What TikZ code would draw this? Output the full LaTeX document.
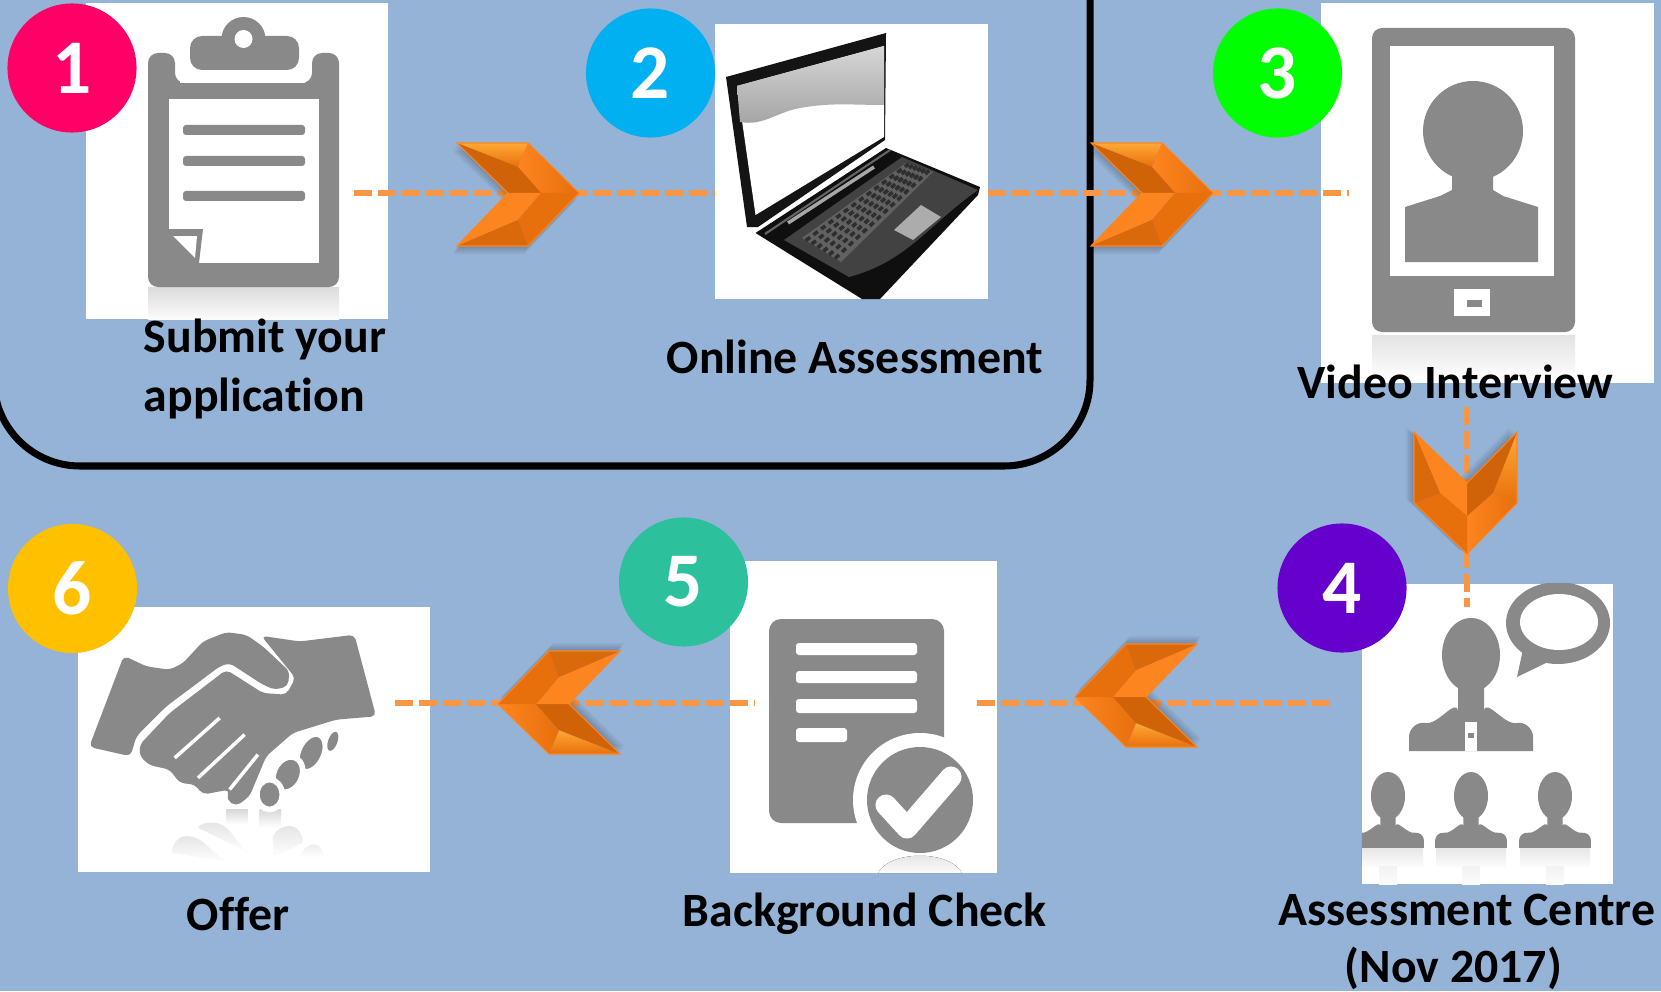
\documentclass[tikz,border=0pt]{standalone}
\usepackage{fontspec}
\setmainfont{Carlito}[Ligatures=CommonOff]
\usetikzlibrary{positioning,calc}

\definecolor{pagecol}{HTML}{95B3D7}
\definecolor{dashcol}{HTML}{F79646}
\definecolor{icongrey}{HTML}{898989}
\definecolor{chevlight}{HTML}{FFA836}
\definecolor{chevbright}{HTML}{FD8520}
\definecolor{chevmid}{HTML}{E8700C}
\definecolor{chevdark}{HTML}{D06208}

\tikzset{
	card/.style={fill=white,inner sep=0,outer sep=0},
	badge/.style={circle,minimum size=1.29cm,inner sep=0,text=white,font=\fontsize{22}{22}\selectfont\bfseries},
	caption/.style={inner sep=0,font=\fontsize{13.6}{16.4}\selectfont\bfseries},
	flowline/.style={dashcol,line width=1.7pt,dash pattern=on 5.1pt off 1.7pt},
	icon/.style={fill=icongrey},
	fadeout/.style={top color=gray!28,bottom color=gray!3,draw=none},
	bust/.pic={
		\fill[icon] (0,0) ellipse (29 and 37);
		\fill[icon] (-13,30) -- (13,30) -- (13,56) to[out=80,in=190] (46,68) to[out=10,in=90] (62,82) -- (62,96) -- (-62,96) -- (-62,82) to[out=90,in=170] (-46,68) to[out=-10,in=100] (-13,56) -- cycle;
	},
}

% one chevron, tip at #1, turned by #2
\newcommand{\chevronmark}[2]{
	\begin{scope}[shift={#1},rotate=#2]
		\foreach \d in {2,4,6,8} {
			\fill[black,opacity=.05] (-122-\d/2,-50+\d) -- (-51-\d/2,-50+\d) -- (-\d/2,\d) -- (-51-\d/2,53+\d) -- (-122-\d/2,53+\d) -- (-71-\d/2,\d) -- cycle;
		}
		\shade[top color=chevlight,bottom color=chevmid] (-122,-50) -- (-51,-50) -- (-61,-26) -- cycle;
		\shade[left color=chevbright,right color=chevmid] (-51,-50) -- (0,0) -- (-38,0) -- (-61,-26) -- cycle;
		\fill[chevdark] (-122,-50) -- (-61,-26) -- (-38,0) -- (-71,0) -- cycle;
		\fill[chevbright] (-71,0) -- (-38,0) -- (-61,27) -- (-122,53) -- cycle;
		\fill[chevmid] (-38,0) -- (0,0) -- (-51,53) -- (-61,27) -- cycle;
		\fill[chevmid!94!black] (-122,53) -- (-61,27) -- (-51,53) -- cycle;
		\draw[chevbright,line width=.3pt,line join=miter] (-122,-50) -- (-51,-50) -- (0,0) -- (-51,53) -- (-122,53) -- (-71,0) -- cycle;
	\end{scope}
}

\begin{document}
\begin{tikzpicture}[x=0.01cm,y=-0.01cm]
	\useasboundingbox (0,0) rectangle (1661,991);
	\clip (0,0) rectangle (1661,991);
	\fill[pagecol] (0,0) rectangle (1661,991);
	% The frame round the first two steps runs off the page on the top and the left.
	\draw[black,line width=2pt,rounded corners=0.86cm] (-6,-120) rectangle (1090,466);

	\node[card,minimum width=3.02cm,minimum height=3.16cm] (card1) at (237,161) {};
	\node[card,minimum width=2.73cm,minimum height=2.75cm] (card2) at (851.5,161.5) {};
	\node[card,minimum width=3.33cm,minimum height=3.80cm] (card3) at (1487.5,193) {};
	\node[card,minimum width=2.51cm,minimum height=3.00cm] (card4) at (1487.5,734) {};
	\node[card,minimum width=2.67cm,minimum height=3.12cm] (card5) at (863.5,717) {};
	\node[card,minimum width=3.52cm,minimum height=2.65cm] (card6) at (254,739.5) {};

	% Clipboard
	\fill[fadeout] (148,287) rectangle (339,319);
	\fill[icon,rounded corners=0.1cm] (148,287) -- (148,53) -- (175,53) -- (175,83) -- (312,83) -- (312,53) -- (339,53) -- (339,287) -- cycle;
	\fill[white] (180,70) rectangle (305,83);
	\fill[icon,rounded corners=0.12cm] (190,70) -- (190,36) -- (299,36) -- (299,70) -- cycle;
	\fill[icon] (243.5,39) circle (22);
	\fill[white] (243.5,39) circle (9);
	\fill[white] (169,99) rectangle (319,263);
	\fill[icon,rounded corners=0.03cm] (183,125) rectangle (305,135);
	\fill[icon,rounded corners=0.03cm] (183,156) rectangle (305,166);
	\fill[icon,rounded corners=0.03cm] (183,191) rectangle (305,201);
	\fill[icon] (169,229) -- (203,229) -- (199,263) -- (169,263) -- cycle;
	\fill[white] (173,236) -- (197,236) -- (195,258) -- cycle;

	% Laptop
	\fill[black!92] (726,77) -- (886,33) -- (885,140) -- (758,227) -- (747,227) -- cycle;
	\fill[white] (737,86) -- (884,46) -- (884,137) -- (755.5,215) -- cycle;
	\shade[top color=black!16,bottom color=black!36] (737,86) -- (884,46) -- (884,105) to[out=180,in=10] (800,108) to[out=190,in=-10] (740,122) -- cycle;
	\fill[black!94] (755.5,233) -- (886,148) -- (980,187) -- (978,195) -- (880,299) -- (862,299) -- cycle;
	\fill[black!74] (784,240) -- (902,157) -- (978,190) to[out=215,in=15] (849,277) -- cycle;
	\fill[black!62] (802,238) -- (906,163) -- (933,172) -- (841,262) -- cycle;
	\foreach \t in {0.1,0.25,...,0.95} {
		\draw[black!82,line width=1pt,dash pattern=on 1.5pt off 1.2pt] ($(802,238)!\t!(841,262)$) -- ($(906,163)!\t!(933,172)$);
	}
	\fill[gray!65] (894,230) -- (921,205) -- (941,217) -- (913,240) -- cycle;
	\draw[gray!70,line width=1pt] (788,223) -- (874,167);
	\draw[black!60,line width=.6pt] (765,234) -- (890,150);

	% Tablet
	\fill[fadeout,top color=gray!22] (1372,335) rectangle (1575,375);
	\fill[icongrey,rounded corners=0.1cm] (1372,28) rectangle (1575,332);
	\fill[white] (1390,46) rectangle (1554,276);
	\fill[icon] (1473,131) circle (50);
	\fill[icon] (1452,170) -- (1493,170) -- (1493,190) -- (1503,196) -- (1538,207) -- (1538,262) -- (1405,262) -- (1405,207) -- (1440,196) -- (1452,190) -- cycle;
	\fill[white] (1454,289) rectangle (1490,316);
	\fill[icon] (1467,300) rectangle (1482,307);

	% Panel of people
	\begin{scope}
		\clip (card4.north west) rectangle (card4.south east);
		\foreach \px in {1388,1471,1555} {
			\fill[fadeout,top color=gray!20] (\px-35,847) rectangle (\px+35,866);
			\fill[fadeout,top color=gray!10] (\px-9,866) rectangle (\px+9,884);
			\pic[xscale=.58,yscale=.54] at (\px,796) {bust};
			\fill[icon] (\px,796) ellipse (17 and 24);
		}
		\pic at (1471,655) {bust};
		\fill[white] (1465,722) rectangle (1477,751);
		\fill[icon] (1468,733) rectangle (1474,738);
		\fill[icon] (1558,623) ellipse (52 and 41);
		\fill[icon] (1517,677) -- (1525,640) -- (1552,660) -- cycle;
		\fill[white] (1559,622) ellipse (39 and 28);
	\end{scope}

	% Document with tick
	\fill[icon,rounded corners=0.12cm] (769,619) rectangle (944,823);
	\fill[white,rounded corners=0.03cm] (796,643) rectangle (917,655);
	\fill[white,rounded corners=0.03cm] (796,671) rectangle (917,683);
	\fill[white,rounded corners=0.03cm] (796,699) rectangle (917,713);
	\fill[white,rounded corners=0.03cm] (796,728) rectangle (847,742);
	\fill[white] (920,800) circle (67);
	\fill[fadeout,top color=gray!25] (878,873) .. controls (890,850) and (950,850) .. (962,873) -- cycle;
	\fill[icon] (920,800) circle (53);
	\draw[white,line width=6pt,line cap=round,line join=round] (886,805) -- (907,828) -- (951,777);

	% Handshake, in a finer grid of its own
	\begin{scope}[shift={(0,500)},x=0.00333cm,y=-0.00333cm]
		\shade[top color=gray!30,bottom color=white] (680,930) rectangle (745,975);
		\shade[top color=gray!30,bottom color=white] (780,930) rectangle (845,985);
		\shade[top color=gray!20,bottom color=white] (515,1060) to[out=80,in=180] (560,1010) to[out=0,in=170] (700,1090) -- cycle;
		\shade[top color=gray!20,bottom color=white] (595,985) to[out=60,in=180] (640,970) to[out=0,in=150] (750,1060) -- cycle;
		\shade[top color=gray!20,bottom color=white] (820,1075) -- (820,1010) to[out=60,in=180] (870,980) to[out=0,in=90] (910,1030) -- cycle;
		\shade[top color=gray!14,bottom color=white] (900,1075) to[out=70,in=180] (945,1035) to[out=0,in=90] (972,1075) -- cycle;
		\fill[icon,rounded corners=0.05cm] (372,468) -- (440,500) -- (510,510) -- (550,490) -- (610,425) -- (680,397) -- (740,405) -- (790,440) -- (870,515) -- (865,560) -- (825,570) -- (790,555) -- (690,490) -- (660,500) -- (500,620) -- (410,710) -- (392,770) -- (268,742) -- cycle;
		\fill[icon,rounded corners=0.05cm] (785,408) -- (900,425) -- (1065,405) -- (1130,650) -- (1010,660) -- (880,700) -- (800,770) -- (750,890) -- (710,920) -- (680,900) -- (690,870) -- (610,885) -- (585,855) -- (540,850) -- (510,810) -- (450,797) -- (420,770) -- (420,735) -- (510,640) -- (680,510) -- (790,580) -- (860,585) -- (888,535) -- cycle;
		\draw[white,line width=1pt] (660,655) -- (525,775);
		\draw[white,line width=1pt] (735,705) -- (595,835);
		\draw[white,line width=1pt] (775,765) -- (690,870);
		\fill[icon,draw=white,line width=1.6pt,rotate around={-25:(935,760)}] (935,760) ellipse (38 and 60);
		\fill[icon,draw=white,line width=1.6pt,rotate around={-25:(865,825)}] (865,825) ellipse (42 and 55);
		\fill[icon,draw=white,line width=1.6pt] (810,885) ellipse (38 and 45);
		\fill[icon,rotate around={-20:(1000,725)}] (1000,725) ellipse (14 and 30);
	\end{scope}

	% Ends of the dashed runs that stop inside a picture
	\coordinate (runA) at (354,193);
	\coordinate (runB) at (1349,193);
	\coordinate (runC) at (1467,407);
	\coordinate (runD) at (1467,607);
	\coordinate (runE) at (977,703);
	\coordinate (runF) at (1333,703);
	\coordinate (runG) at (395,703);
	\coordinate (runH) at (755,703);

	\draw[flowline] (runA) -- (card2.west |- runA);
	\draw[flowline] (card2.east |- runB) -- (runB);
	\draw[flowline] (runC) -- (runD);
	\draw[flowline] (runE) -- (runF);
	\draw[flowline] (runG) -- (runH);

	\chevronmark{(579,193)}{0}
	\chevronmark{(1213,193)}{0}
	\chevronmark{(1467,554)}{-90}
	\chevronmark{(1075,697)}{180}
	\chevronmark{(498,704)}{180}

	\node[badge,fill={rgb,255:red,255;green,0;blue,102}] (num1) at (72,68) {1};
	\node[badge,fill={rgb,255:red,0;green,176;blue,240}] (num2) at (650.5,73) {2};
	\node[badge,fill={rgb,255:red,0;green,255;blue,0}] (num3) at (1277.5,73) {3};
	\node[badge,fill={rgb,255:red,102;green,0;blue,204}] (num4) at (1342,588) {4};
	\node[badge,fill={rgb,255:red,44;green,192;blue,156}] (num5) at (683.5,582) {5};
	\node[badge,fill={rgb,255:red,255;green,192;blue,0}] (num6) at (72.5,588.5) {6};

	\node[caption,anchor=base west] (name1a) at (143,352) {Submit your};
	\node[caption,anchor=base west] (name1b) at (143,411) {application};
	\node[caption,anchor=base west] (name2) at (666,373) {Online Assessment};
	\node[caption,anchor=base west] (name3) at (1297,398) {Video Interview};
	\node[caption,anchor=base west] (name4a) at (1278,925) {Assessment Centre};
	\node[caption,anchor=base west] (name4b) at (1344,982) {(Nov 2017)};
	\node[caption,anchor=base west] (name5) at (682,926) {Background Check};
	\node[caption,anchor=base west] (name6) at (186,930) {Offer};
\end{tikzpicture}
\end{document}
